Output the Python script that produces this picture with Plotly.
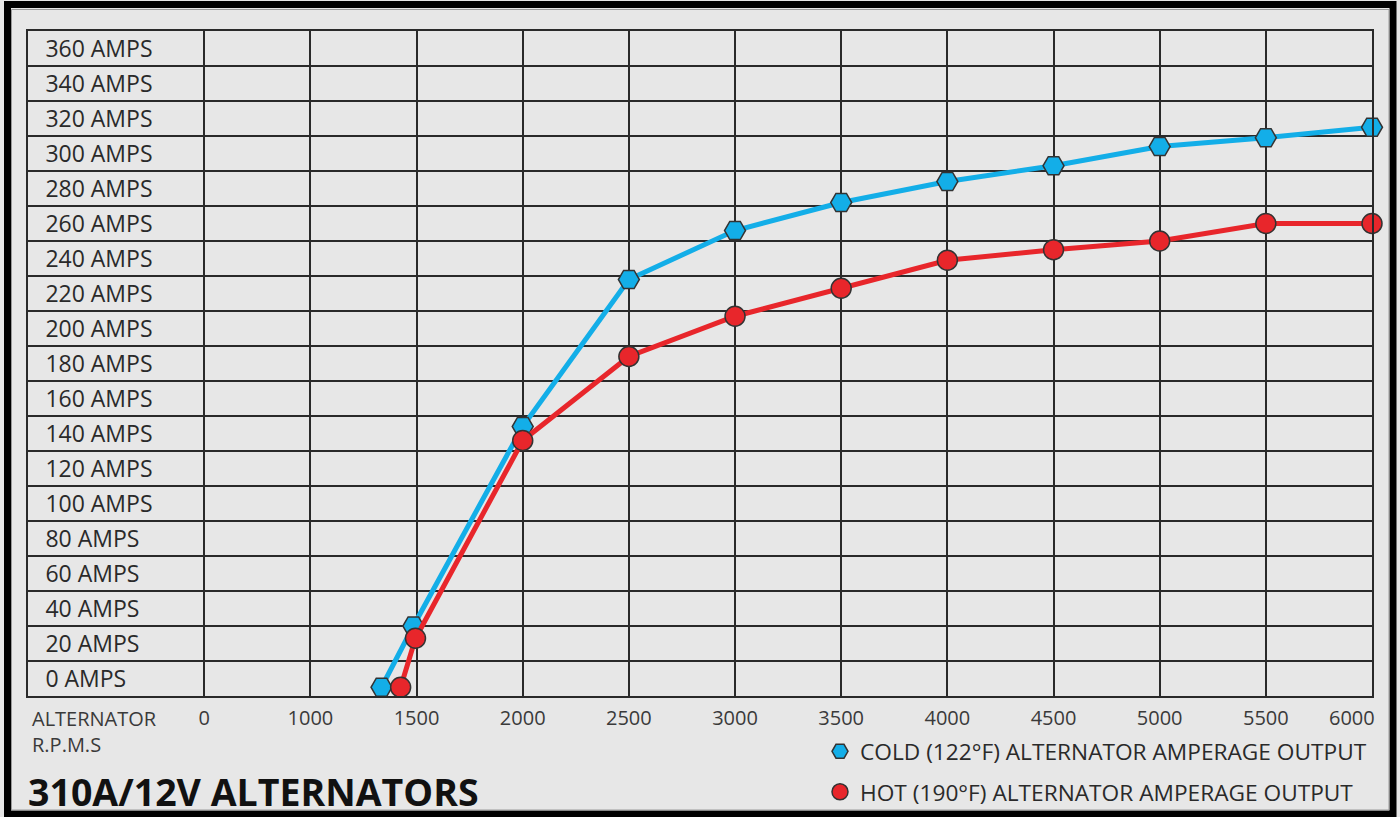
import plotly.graph_objects as go

# ---- data ----
cold_rpm = [1335, 1485, 2000, 2500, 3000, 3500, 4000, 4500, 5000, 5500, 6000]
cold_amps = [-5, 30, 144, 228, 256, 272, 284, 293, 304, 309, 315]
hot_rpm = [1425, 1495, 2000, 2500, 3000, 3500, 4000, 4500, 5000, 5500, 6000]
hot_amps = [-5, 23, 136, 184, 207, 223, 239, 245, 250, 260, 260]

x_tickvals = [500, 1000, 1500, 2000, 2500, 3000, 3500, 4000, 4500, 5000, 5500, 6000]
x_ticktext = ["0", "1000", "1500", "2000", "2500", "3000", "3500", "4000", "4500", "5000", "5500", "6000"]
y_tickvals = list(range(0, 361, 20))
y_ticktext = [f"{v} AMPS" for v in y_tickvals]
y_gridvals = list(range(-10, 371, 20))

BLUE = "#13aee8"
RED = "#e8262b"
GRID = "#2a2a2a"
BG = "#e7e7e7"
FONT = "Open Sans"

# plot area in pixels
L, R, T, B = 28, 1372, 31, 696
W, H = 1400, 817
PW, PH = R - L, B - T


def px(x):
    return (x - L) / PW


def py(y):
    return (B - y) / PH


fig = go.Figure()
fig.add_trace(go.Scatter(x=cold_rpm, y=cold_amps, mode="lines", cliponaxis=False,
                         line=dict(color=BLUE, width=5), showlegend=False, hoverinfo="skip"))
fig.add_trace(go.Scatter(x=cold_rpm, y=cold_amps, mode="markers", cliponaxis=False,
                         name="COLD (122°F) ALTERNATOR AMPERAGE OUTPUT", legendgroup="c",
                         marker=dict(symbol="hexagon2", size=21, color=BLUE,
                                     line=dict(color="#333333", width=1.5))))
fig.add_trace(go.Scatter(x=hot_rpm, y=hot_amps, mode="lines", cliponaxis=False,
                         line=dict(color=RED, width=5), showlegend=False, hoverinfo="skip"))
fig.add_trace(go.Scatter(x=hot_rpm, y=hot_amps, mode="markers", cliponaxis=False,
                         name="HOT (190°F) ALTERNATOR AMPERAGE OUTPUT", legendgroup="h",
                         marker=dict(symbol="circle", size=20, color=RED,
                                     line=dict(color="#333333", width=1.5))))

# last x label is drawn separately (shifted inside the frame, as in the original)
x_ticktext_axis = x_ticktext[:-1] + [""]

fig.update_layout(
    width=W, height=H,
    margin=dict(l=L, r=W - R, t=T, b=H - B, pad=0, autoexpand=False),
    paper_bgcolor=BG, plot_bgcolor=BG,
    font=dict(family=FONT, color="#333333", size=20),
    xaxis=dict(range=[-330, 6000], tickmode="array", tickvals=x_tickvals, ticktext=x_ticktext_axis,
               showgrid=True, gridcolor=GRID, gridwidth=2, zeroline=False, automargin=False,
               showline=True, linecolor=GRID, linewidth=2, mirror=True, ticks="",
               ticklabelstandoff=3, tickfont=dict(size=20, color="#3a3a3a")),
    yaxis=dict(range=[-10, 370], tickmode="array", tickvals=y_tickvals, ticktext=y_ticktext,
               showgrid=False, zeroline=False, ticklabelposition="inside", ticklabelstandoff=19,
               showline=True, linecolor=GRID, linewidth=2, mirror=True, ticks="", automargin=False,
               tickfont=dict(size=23, color="#2a2a2a"),
               minor=dict(tickmode="array", tickvals=y_gridvals, showgrid=True,
                          gridcolor=GRID, gridwidth=2, ticks="")),
    legend=dict(x=px(820), y=py(730), xanchor="left", yanchor="top",
                bgcolor="rgba(0,0,0,0)", font=dict(size=22.7, color="#2a2a2a"),
                traceorder="grouped", tracegroupgap=8),
    showlegend=True,
)

fig.add_annotation(x=px(1352), y=py(702), xref="paper", yref="paper", xanchor="center", yanchor="top",
                   text=x_ticktext[-1], showarrow=False,
                   font=dict(size=20, color="#3a3a3a"))
fig.add_annotation(x=px(30), y=py(703), xref="paper", yref="paper", xanchor="left", yanchor="top",
                   text="ALTERNATOR<br>R.P.M.S", showarrow=False, align="left",
                   font=dict(size=20, color="#3a3a3a"))
fig.add_annotation(x=px(26), y=py(791), xref="paper", yref="paper", xanchor="left", yanchor="middle",
                   text="<b>310A/12V ALTERNATORS</b>", showarrow=False, align="left",
                   font=dict(size=37.5, color="#111111"))

# outer frame
fig.add_shape(type="rect", xref="paper", yref="paper",
              x0=px(7.5), x1=px(1393), y0=py(814), y1=py(4.5),
              line=dict(color="#000000", width=7), fillcolor="rgba(0,0,0,0)", layer="above")
fig.add_shape(type="rect", xref="paper", yref="paper",
              x0=px(11.5), x1=px(1389), y0=py(810), y1=py(9.5),
              line=dict(color="#9a9a9a", width=1), fillcolor="rgba(0,0,0,0)", layer="above")

fig.write_html("out.html", config={"displayModeBar": False},
               post_script="document.body.style.margin='0';document.body.style.overflow='hidden';")
